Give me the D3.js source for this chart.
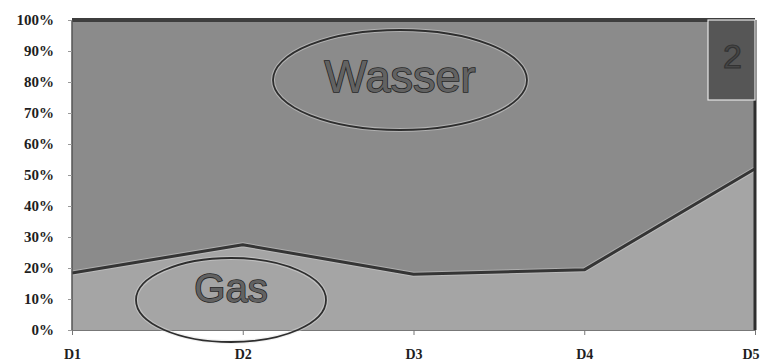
<!DOCTYPE html>
<html>
<head>
<meta charset="utf-8">
<script src="https://cdn.jsdelivr.net/npm/d3@7"></script>
<style>
  html, body { margin: 0; padding: 0; background: #fff; }
  svg { display: block; }
</style>
</head>
<body>
<svg id="chart" width="760" height="364"></svg>
<script>
// Stations along the profile and the gas share (fraction) at each one
const categories = ["D1", "D2", "D3", "D4", "D5"];
const gasShare = [0.184, 0.275, 0.18, 0.194, 0.52];
const yTicks = [0, 0.1, 0.2, 0.3, 0.4, 0.5, 0.6, 0.7, 0.8, 0.9, 1.0];
const phaseLabels = ["Wasser", "Gas"];
const panelNumber = "2";

const W = 760, H = 364;
const margin = { top: 20, right: 5, bottom: 34, left: 72 };
const iw = W - margin.left - margin.right;
const ih = H - margin.top - margin.bottom;

const svg = d3.select("#chart");
const g = svg.append("g").attr("transform", `translate(${margin.left},${margin.top})`);

const x = d3.scalePoint().domain(categories).range([0, iw]);
const y = d3.scaleLinear().domain([0, 1]).range([ih, 0]);

const rows = categories.map((c, i) => ({ c, v: gasShare[i] }));

// Water fills the whole column; gas is stacked from the bottom up to the share line
g.append("path")
  .datum(rows)
  .attr("fill", "#8b8b8b")
  .attr("d", d3.area().x(d => x(d.c)).y0(y(1)).y1(d => y(d.v)));

g.append("path")
  .datum(rows)
  .attr("fill", "#a5a5a5")
  .attr("d", d3.area().x(d => x(d.c)).y0(y(0)).y1(d => y(d.v)));

// Boundary between the phases
g.append("path")
  .datum(rows)
  .attr("fill", "none")
  .attr("stroke", "#d8d8d8")
  .attr("stroke-width", 5)
  .attr("stroke-linejoin", "round")
  .attr("opacity", 0.45)
  .attr("d", d3.line().x(d => x(d.c)).y(d => y(d.v)));
g.append("path")
  .datum(rows)
  .attr("fill", "none")
  .attr("stroke", "#353535")
  .attr("stroke-width", 3)
  .attr("stroke-linejoin", "round")
  .attr("d", d3.line().x(d => x(d.c)).y(d => y(d.v)));

// Frame: heavy top and right edges, thin left edge
g.append("line").attr("x1", 0).attr("x2", iw).attr("y1", y(1)).attr("y2", y(1))
  .attr("stroke", "#3e3e3e").attr("stroke-width", 4);
g.append("line").attr("x1", iw).attr("x2", iw).attr("y1", y(1)).attr("y2", y(0))
  .attr("stroke", "#2e2e2e").attr("stroke-width", 3);
g.append("line").attr("x1", 0).attr("x2", 0).attr("y1", y(1)).attr("y2", y(0))
  .attr("stroke", "#555").attr("stroke-width", 1.5);

// Panel number box in the upper right corner
const boxW = 47, boxH = 80;
g.append("rect")
  .attr("x", iw - boxW).attr("y", y(1))
  .attr("width", boxW).attr("height", boxH)
  .attr("fill", "#565656")
  .attr("stroke", "#e6e6e6").attr("stroke-width", 1.2);
g.append("text")
  .attr("x", iw - boxW / 2 + 1).attr("y", y(1) + 48)
  .attr("text-anchor", "middle")
  .attr("font-family", "Liberation Sans, Arial, sans-serif")
  .attr("font-size", 34)
  .attr("fill", "#474747")
  .attr("stroke", "#333").attr("stroke-width", 1.2)
  .text(panelNumber);

// Y axis
const yAxis = g.append("g")
  .call(d3.axisLeft(y).tickValues(yTicks).tickFormat(d3.format(".0%")).tickSize(4).tickPadding(14));
yAxis.select(".domain").remove();
yAxis.selectAll(".tick line").attr("stroke", "#999");
yAxis.selectAll(".tick text")
  .attr("font-family", "Liberation Serif, Times New Roman, serif")
  .attr("font-weight", "bold")
  .attr("font-size", 15)
  .attr("fill", "#1e1e1e");

// X axis
const xAxis = g.append("g")
  .attr("transform", `translate(0,${ih})`)
  .call(d3.axisBottom(x).tickSize(5).tickPadding(14));
xAxis.select(".domain").attr("stroke", "#777").attr("stroke-width", 1);
xAxis.selectAll(".tick line").attr("stroke", "#777");
xAxis.selectAll(".tick text")
  .attr("font-family", "Liberation Serif, Times New Roman, serif")
  .attr("font-weight", "bold")
  .attr("font-size", 14)
  .attr("fill", "#1e1e1e");
// Keep the last station label inside the page
xAxis.selectAll(".tick text").filter(d => d === categories[categories.length - 1])
  .attr("text-anchor", "end").attr("dx", 4);

// Phase annotations: outlined words inside ellipses
function annotate(cx, cy, rx, ry, label, size, baseline) {
  g.append("ellipse")
    .attr("cx", cx).attr("cy", cy).attr("rx", rx).attr("ry", ry)
    .attr("fill", "none").attr("stroke", "#e0e0e0").attr("stroke-width", 4).attr("opacity", 0.45);
  g.append("ellipse")
    .attr("cx", cx).attr("cy", cy).attr("rx", rx).attr("ry", ry)
    .attr("fill", "none").attr("stroke", "#2e2e2e").attr("stroke-width", 1.8);
  g.append("text")
    .attr("x", cx).attr("y", baseline)
    .attr("text-anchor", "middle")
    .attr("font-family", "Liberation Sans, Arial, sans-serif")
    .attr("font-size", size)
    .attr("fill", "#626262")
    .attr("stroke", "#262626").attr("stroke-width", 1.6)
    .attr("paint-order", "stroke")
    .text(label);
}

annotate(400 - margin.left, 80 - margin.top, 127, 50, phaseLabels[0], 45, 92 - margin.top);
annotate(231 - margin.left, 300 - margin.top, 95, 42, phaseLabels[1], 40, 302 - margin.top);
</script>
</body>
</html>
